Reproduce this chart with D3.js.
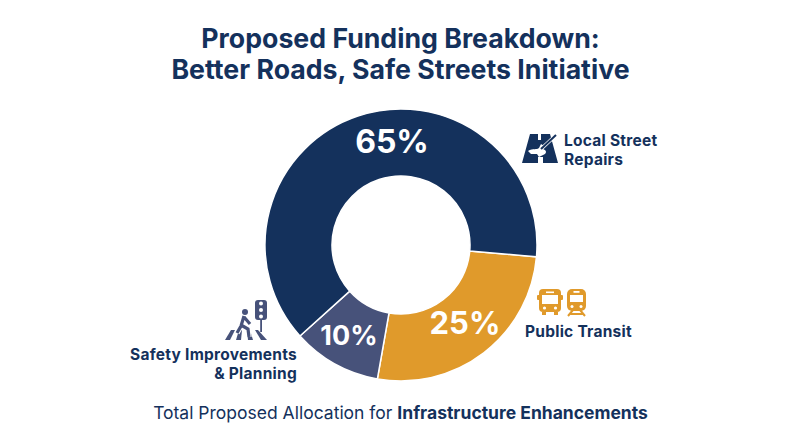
<!DOCTYPE html>
<html><head><meta charset="utf-8">
<script src="https://cdn.jsdelivr.net/npm/d3@7"></script>
<style>html,body{margin:0;padding:0;background:#fff}svg{display:block}text{font-family:Inter,"Noto Sans",sans-serif}</style>
</head><body><svg id="c" width="800" height="447"></svg>
<script>
const categories=["Public Transit","Safety Improvements & Planning","Local Street Repairs"];
const shares=[25,10,65];
// slice sizes as actually drawn in the picture (degrees), which differ slightly from the printed shares
const drawnSweeps=[95,38,227];
const colors=["#E09A2B","#47527A","#14315C"];
const titleLines=["Proposed Funding Breakdown:","Better Roads, Safe Streets Initiative"];
const navy="#14315C";
const svg=d3.select("#c");
const g=svg.append("g").attr("transform","translate(401,245)");
const start=95*Math.PI/180;
const pie=d3.pie().sort(null).value(d=>d).startAngle(start).endAngle(start+2*Math.PI);
const arc=d3.arc().innerRadius(69).outerRadius(136);
const arcs=pie(drawnSweeps);
g.selectAll("path").data(arcs).join("path").attr("d",arc).attr("fill",(d,i)=>colors[i]).attr("stroke","#fff").attr("stroke-width",1.5);
const labelPos=[[465,334],[349,345],[392,153]];
const sizes=[31,27,32];
svg.selectAll("text.pct").data(shares).join("text").attr("class","pct").attr("x",(d,i)=>labelPos[i][0]).attr("y",(d,i)=>labelPos[i][1])
 .attr("text-anchor","middle").attr("fill","#fff").attr("font-weight",700).attr("font-size",(d,i)=>sizes[i]).text(d=>d+"%");
function multi(x,y,lines,o={}){const el=svg.append("text").attr("fill",navy).attr("font-size",o.size||15.5).attr("letter-spacing",o.size?0:0.25).attr("font-weight",700).attr("text-anchor",o.anchor||"start");
 lines.forEach((s,i)=>el.append("tspan").attr("x",x).attr("y",y+i*(o.lh||19)).text(s));return el;}
multi(400.5,47.5,titleLines,{size:26.7,anchor:"middle",lh:31});
multi(564,145.5,["Local Street","Repairs"]);
multi(525,337,["Public Transit"]);
multi(297,359.5,["Safety Improvements","& Planning"],{anchor:"end"});
const foot=svg.append("text").attr("x",400.5).attr("y",419).attr("text-anchor","middle").attr("font-size",17.5).attr("fill",navy);
foot.append("tspan").text("Total Proposed Allocation for ");
foot.append("tspan").attr("font-weight",700).text("Infrastructure Enhancements");
// icon: road with shovel
const ic=svg.append("g").attr("transform","translate(522,134)");
ic.append("path").attr("fill",navy).attr("d","M8,0H16V6H19V0H28L36,29H21V23H16V29H0Z");
ic.append("path").attr("fill","#fff").attr("d","M6,17C11,14 15,16 17,14L19,10L22,12L21,15C24,16 25,18 23,20L17,23L15,20L9,20Z");
ic.append("path").attr("stroke","#fff").attr("stroke-width",3.5).attr("d","M18,16L33,2").attr("fill","none");
ic.append("path").attr("stroke",navy).attr("stroke-width",2).attr("d","M19,15L34,1").attr("fill","none");
// transit icons
const or=colors[0];
const b=svg.append("g").attr("transform","translate(537,289)");
b.append("rect").attr("x",2).attr("width",22).attr("height",23).attr("rx",4).attr("fill",or);
b.append("rect").attr("x",0).attr("y",6).attr("width",26).attr("height",5).attr("rx",1).attr("fill",or);
b.append("rect").attr("x",5).attr("y",6).attr("width",16).attr("height",9).attr("fill","#fff");
b.append("rect").attr("x",9).attr("y",2.5).attr("width",8).attr("height",1.6).attr("fill","#fff");
b.append("circle").attr("cx",7.5).attr("cy",19).attr("r",1.6).attr("fill","#fff");
b.append("circle").attr("cx",18.5).attr("cy",19).attr("r",1.6).attr("fill","#fff");
b.append("rect").attr("x",5).attr("y",23).attr("width",4).attr("height",3).attr("fill",or);
b.append("rect").attr("x",17).attr("y",23).attr("width",4).attr("height",3).attr("fill",or);
const r=svg.append("g").attr("transform","translate(567,289)");
r.append("rect").attr("x",0).attr("width",19).attr("height",22).attr("rx",5).attr("fill",or);
r.append("rect").attr("x",3).attr("y",6).attr("width",13).attr("height",7).attr("fill","#fff");
r.append("rect").attr("x",6.5).attr("y",2).attr("width",6).attr("height",1.8).attr("fill","#fff");
r.append("circle").attr("cx",5).attr("cy",17.5).attr("r",1.5).attr("fill","#fff");
r.append("circle").attr("cx",14).attr("cy",17.5).attr("r",1.5).attr("fill","#fff");
r.append("path").attr("d","M1,27L6,21M18,27L13,21M3.5,25H15.5").attr("stroke",or).attr("stroke-width",2).attr("fill","none");
// pedestrian icon
const gr="#47527A";
const p=svg.append("g").attr("transform","translate(224,300)");
["M7,30H11L6,40H1Z","M15,30H18L17,40H12Z","M23,30H26L29,40H24Z","M31,30H34L43,40H37Z"].forEach(d=>p.append("path").attr("fill",gr).attr("d",d));
const person="M20,16L17,26L13,33M17,25L24,29L25,37M20,17L26,24";
p.append("path").attr("d",person).attr("stroke","#fff").attr("stroke-width",5.5).attr("fill","none");
p.append("circle").attr("cx",21).attr("cy",12).attr("r",3).attr("fill",gr);
p.append("path").attr("d",person).attr("stroke",gr).attr("stroke-width",3.2).attr("fill","none");
p.append("rect").attr("x",31).attr("y",0).attr("width",12).attr("height",20).attr("rx",3).attr("fill",gr);
[3.5,10,16.5].forEach(y=>p.append("circle").attr("cx",37).attr("cy",y).attr("r",2).attr("fill","#fff"));
p.append("rect").attr("x",36.2).attr("y",20).attr("width",1.8).attr("height",12).attr("fill",gr);
</script></body></html>
